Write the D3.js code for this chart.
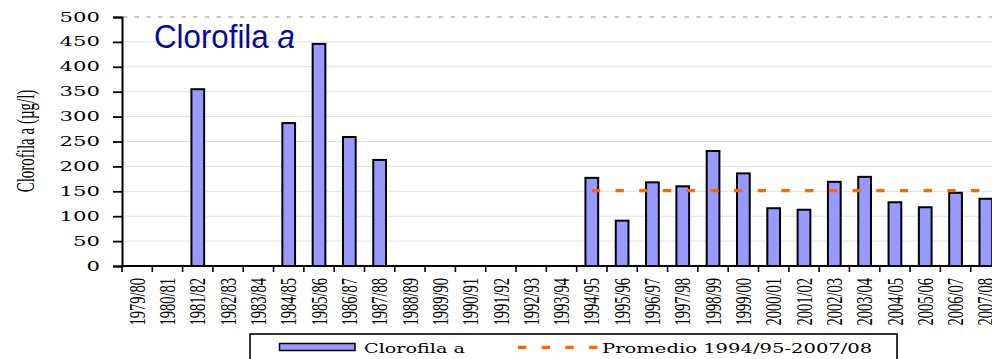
<!DOCTYPE html>
<html>
<head>
<meta charset="utf-8">
<script src="https://cdn.jsdelivr.net/npm/d3@7"></script>
<style>
  html, body { margin: 0; padding: 0; background: #fff; overflow: hidden; }
  svg { display: block; }
</style>
</head>
<body>
<svg id="chart" width="992" height="359"></svg>
<script>
// Campaign years (hydrological seasons)
const categories = [
  "1979/80","1980/81","1981/82","1982/83","1983/84","1984/85","1985/86",
  "1986/87","1987/88","1988/89","1989/90","1990/91","1991/92","1992/93",
  "1993/94","1994/95","1995/96","1996/97","1997/98","1998/99","1999/00",
  "2000/01","2001/02","2002/03","2003/04","2004/05","2005/06","2006/07","2007/08"
];
// Chlorophyll a (µg/l); null = no sampling that season
const clorofila = [
  null, null, 355, null, null, 287, 446,
  259, 213, null, null, null, null, null,
  null, 177, 91, 168, 160, 231, 186,
  116, 113, 169, 179, 128, 118, 147, 135
];
const yTicks = [0, 50, 100, 150, 200, 250, 300, 350, 400, 450, 500];
const periodStart = "1994/95";
const periodEnd = "2007/08";

const svg = d3.select("#chart");

const plot = { left: 122, right: 1001, top: 17, bottom: 266 };

const x = d3.scaleBand().domain(categories).range([plot.left, plot.right]).paddingInner(0).paddingOuter(0);
const y = d3.scaleLinear().domain([0, 500]).range([plot.bottom, plot.top]);

// Gridlines
svg.append("g")
  .selectAll("line")
  .data(yTicks.filter(t => t > 0 && t < 500))
  .join("line")
  .attr("x1", plot.left).attr("x2", 992)
  .attr("y1", d => y(d)).attr("y2", d => y(d))
  .attr("stroke", "#e2e2e2").attr("stroke-width", 1);

// Upper border of the plot area
svg.append("line")
  .attr("x1", plot.left + 1).attr("x2", 992)
  .attr("y1", y(500)).attr("y2", y(500))
  .attr("stroke", "#b5b5b5").attr("stroke-width", 1.4)
  .attr("stroke-dasharray", "4.3 7.4");

// Bars
const barW = x.bandwidth() * 0.42;
const barData = categories.map((c, i) => ({ c, v: clorofila[i] })).filter(d => d.v != null);
svg.append("g")
  .selectAll("rect")
  .data(barData)
  .join("rect")
  .attr("x", d => x(d.c) + x.bandwidth() / 2 - barW / 2)
  .attr("y", d => y(d.v))
  .attr("width", barW)
  .attr("height", d => y(0) - y(d.v))
  .attr("fill", "#9999ff")
  .attr("stroke", "#000")
  .attr("stroke-width", 2);

// Mean over the 1994/95–2007/08 period
const i0 = categories.indexOf(periodStart), i1 = categories.indexOf(periodEnd);
const periodMean = d3.mean(clorofila.slice(i0, i1 + 1));
svg.append("line")
  .attr("x1", x(periodStart) + x.bandwidth() / 2)
  .attr("x2", x(periodEnd) + x.bandwidth() / 2)
  .attr("y1", y(periodMean)).attr("y2", y(periodMean))
  .attr("stroke", "#ff6600").attr("stroke-width", 3.2)
  .attr("stroke-dasharray", "8.3 15.4");

// Y axis
const yAxis = svg.append("g")
  .attr("transform", `translate(${plot.left},0)`)
  .call(d3.axisLeft(y).tickValues(yTicks).tickSize(9).tickFormat(""));
yAxis.select(".domain").attr("stroke", "#000").attr("stroke-width", 2);
yAxis.selectAll(".tick line").attr("stroke", "#000").attr("stroke-width", 1.8);

svg.append("g")
  .selectAll("text")
  .data(yTicks)
  .join("text")
  .attr("transform", d => `translate(100,${y(d)}) scale(1.7,1)`)
  .attr("text-anchor", "end")
  .attr("dy", "0.36em")
  .attr("font-family", "DejaVu Serif")
  .attr("font-size", 12.5)
  .attr("fill", "#000")
  .text(d => d);

// X axis
const xAxisG = svg.append("g").attr("transform", `translate(0,${plot.bottom})`);
xAxisG.append("line")
  .attr("x1", plot.left - 1).attr("x2", 992)
  .attr("stroke", "#000").attr("stroke-width", 1.8);
xAxisG.selectAll("line.tk")
  .data(categories.concat(["__end"]))
  .join("line")
  .attr("class", "tk")
  .attr("x1", (d, i) => plot.left + i * x.step())
  .attr("x2", (d, i) => plot.left + i * x.step())
  .attr("y1", 0).attr("y2", 6)
  .attr("stroke", "#000").attr("stroke-width", 1.6);

svg.append("g")
  .selectAll("text")
  .data(categories)
  .join("text")
  .attr("transform", d => `translate(${x(d) + x.bandwidth() / 2},278) scale(1.55,1) rotate(-90)`)
  .attr("text-anchor", "end")
  .attr("dy", "0.34em")
  .attr("font-family", "Liberation Serif")
  .attr("font-size", 14.5)
  .attr("fill", "#000")
  .text(d => d);

// Y axis title
svg.append("text")
  .attr("transform", "translate(25,141) scale(1.75,1) rotate(-90)")
  .attr("text-anchor", "middle")
  .attr("dy", "0.34em")
  .attr("font-family", "Liberation Serif")
  .attr("font-size", 15)
  .attr("fill", "#000")
  .text("Clorofila a (µg/l)");

// Chart title
const title = svg.append("text")
  .attr("transform", "translate(154,48) scale(0.92,1)")
  .attr("font-family", "Liberation Sans, Arial, sans-serif")
  .attr("font-size", 34)
  .attr("fill", "#0a0a96");
title.append("tspan").text("Clorofila ");
title.append("tspan").attr("font-style", "italic").text("a");

// Legend
const lg = svg.append("g");
lg.append("rect")
  .attr("x", 250).attr("y", 334).attr("width", 647).attr("height", 40)
  .attr("fill", "#fff").attr("stroke", "#000").attr("stroke-width", 1.6);
lg.append("rect")
  .attr("x", 279.5).attr("y", 343.5).attr("width", 75.5).attr("height", 7)
  .attr("fill", "#9999ff").attr("stroke", "#000").attr("stroke-width", 1.5);
lg.append("text")
  .attr("transform", "translate(364,353.3) scale(1.42,1)")
  .attr("font-family", "DejaVu Serif").attr("font-size", 13.5).attr("fill", "#000")
  .text("Clorofila a");
lg.append("line")
  .attr("x1", 518).attr("x2", 598).attr("y1", 347.3).attr("y2", 347.3)
  .attr("stroke", "#ff6600").attr("stroke-width", 3.2)
  .attr("stroke-dasharray", "8.3 15.4");
lg.append("text")
  .attr("transform", "translate(602,353.3) scale(1.45,1)")
  .attr("font-family", "DejaVu Serif").attr("font-size", 13.5).attr("fill", "#000")
  .text("Promedio 1994/95-2007/08");
</script>
</body>
</html>
